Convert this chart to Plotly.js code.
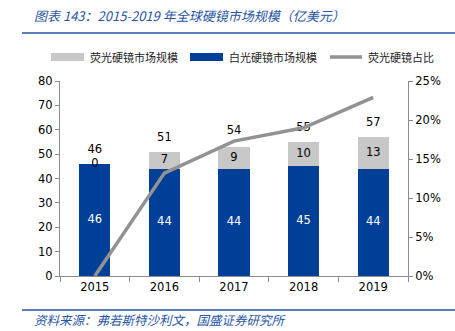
<!DOCTYPE html>
<html><head><meta charset="utf-8">
<script src="https://cdn.plot.ly/plotly-3.0.1.min.js"></script>
<style>html,body{margin:0;padding:0;background:#fff;}#c{width:455px;height:331px;}</style>
</head><body><div id="c"></div>
<script>
const years = ['2015','2016','2017','2018','2019'];
const whiteLens = [46, 44, 44, 45, 44];
const fluoLens = [0, 7, 9, 10, 13];
const totals = [46, 51, 54, 55, 57];
const fluoShare = [0, 13.2, 17.3, 19.0, 22.9];
const seriesNames = ['荧光硬镜市场规模', '白光硬镜市场规模', '荧光硬镜占比'];
const titleText = '图表 143：2015-2019 年全球硬镜市场规模（亿美元）';
const sourceText = '资料来源：弗若斯特沙利文，国盛证券研究所';

const font = 'DejaVu Sans, Verdana, sans-serif';
const cjk = 'Noto Sans CJK SC, sans-serif';
const blue = '#003f98', gray = '#c8c8c8', lineGray = '#929292';

// pixel -> paper helpers (plot area: x 60..408, y 55..276)
const PW = 348, PH = 221;
const px = v => (v - 60) / PW;
const py = v => (276 - v) / PH;

const traces = [
  {type:'bar', x:years, y:whiteLens, marker:{color:blue}, width:0.45, showlegend:false, hoverinfo:'skip'},
  {type:'bar', x:years, y:fluoLens, marker:{color:gray}, width:0.45, showlegend:false, hoverinfo:'skip'},
  {type:'scatter', mode:'text', x:years, y:whiteLens.map(v=>v/2), text:whiteLens.map(String),
   textfont:{color:'#ffffff', size:11.5, family:font}, showlegend:false, hoverinfo:'skip'},
  {type:'scatter', mode:'text', x:years, y:whiteLens.map((v,i)=>v+Math.max(fluoLens[i],0)/2), text:fluoLens.map(String),
   textfont:{color:'#000', size:11.5, family:font}, showlegend:false, hoverinfo:'skip'},
  {type:'scatter', mode:'text', x:years, y:totals.map(v=>v+5.6), text:totals.map(String),
   textfont:{color:'#000', size:11.5, family:font}, showlegend:false, hoverinfo:'skip'},
  {type:'scatter', mode:'lines', x:years, y:fluoShare, yaxis:'y2', line:{color:lineGray, width:3.5},
   showlegend:false, hoverinfo:'skip'}
];

const shapes = [
  {type:'line', xref:'paper', yref:'paper', x0:px(22), x1:px(455), y0:py(33), y1:py(33), line:{color:'#2a56a3', width:1.5}},
  {type:'line', xref:'paper', yref:'paper', x0:px(22), x1:px(455), y0:py(310), y1:py(310), line:{color:'#2a56a3', width:1.5}},
  {type:'rect', xref:'paper', yref:'paper', x0:px(51), x1:px(84), y0:py(61), y1:py(53), fillcolor:gray, line:{width:0}},
  {type:'rect', xref:'paper', yref:'paper', x0:px(190), x1:px(223), y0:py(61), y1:py(53), fillcolor:blue, line:{width:0}},
  {type:'line', xref:'paper', yref:'paper', x0:px(330), x1:px(362), y0:py(57), y1:py(57), line:{color:lineGray, width:3.5}}
];

const annotations = [
  {xref:'paper', yref:'paper', x:px(32), y:py(16), xanchor:'left', yanchor:'middle', showarrow:false,
   text:'<i>'+titleText+'</i>', font:{family:cjk, size:13, color:'#2a56a3'}},
  {xref:'paper', yref:'paper', x:px(32), y:py(319), xanchor:'left', yanchor:'middle', showarrow:false,
   text:'<i>'+sourceText+'</i>', font:{family:cjk, size:12.5, color:'#2a56a3'}},
  {xref:'paper', yref:'paper', x:px(88), y:py(57), xanchor:'left', yanchor:'middle', showarrow:false,
   text:seriesNames[0], font:{family:cjk, size:11, color:'#222'}},
  {xref:'paper', yref:'paper', x:px(227), y:py(57), xanchor:'left', yanchor:'middle', showarrow:false,
   text:seriesNames[1], font:{family:cjk, size:11, color:'#222'}},
  {xref:'paper', yref:'paper', x:px(366), y:py(57), xanchor:'left', yanchor:'middle', showarrow:false,
   text:seriesNames[2], font:{family:cjk, size:11, color:'#222'}}
];

const layout = {
  width:455, height:331,
  margin:{l:60, r:47, t:55, b:55},
  paper_bgcolor:'#fff', plot_bgcolor:'#fff',
  barmode:'stack', showlegend:false,
  font:{family:font, size:11, color:'#000'},
  xaxis:{type:'category', showline:true, linecolor:'#8c8c8c', linewidth:1, ticks:'outside', ticklen:5,
    tickcolor:'#8c8c8c', tickson:'boundaries', showgrid:false, zeroline:false, tickfont:{size:11.5, family:font}},
  yaxis:{range:[0,80], dtick:10, showline:true, linecolor:'#8c8c8c', ticks:'outside', ticklen:4, tickcolor:'#8c8c8c',
    showgrid:false, zeroline:false, tickfont:{size:11.5, family:font}, domain:[0, 195/221]},
  yaxis2:{range:[0,25], dtick:5, overlaying:'y', side:'right', showline:true, linecolor:'#8c8c8c', ticks:'outside',
    ticklen:4, tickcolor:'#8c8c8c', ticksuffix:'%', showgrid:false, zeroline:false, tickfont:{size:11.5, family:font}},
  shapes:shapes, annotations:annotations
};
Plotly.newPlot('c', traces, layout, {staticPlot:true, displayModeBar:false});
</script></body></html>
